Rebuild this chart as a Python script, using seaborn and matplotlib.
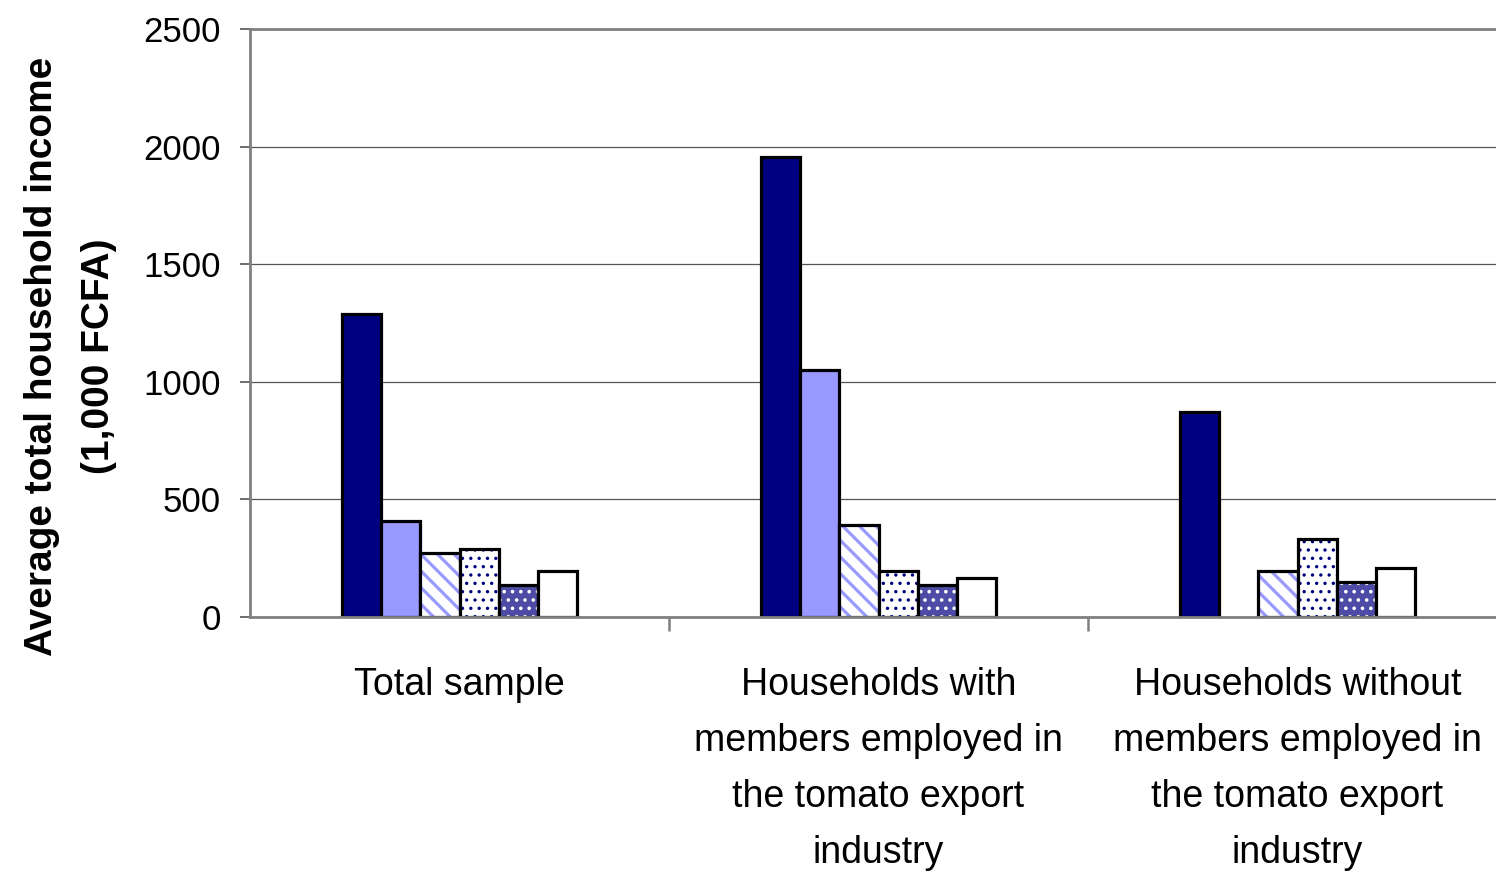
import numpy as np
import pandas as pd
import matplotlib
matplotlib.use("Agg")
import matplotlib.pyplot as plt
import seaborn as sns
from matplotlib.colors import to_rgba
from matplotlib.ticker import FixedLocator

# Household groups (x categories)
groups = [
    "Total sample",
    "Households with\nmembers employed in\nthe tomato export\nindustry",
    "Households without\nmembers employed in\nthe tomato export\nindustry",
]

# Income series (one bar per series within each group), 1,000 FCFA
series = ["Series 1", "Series 2", "Series 3", "Series 4", "Series 5", "Series 6"]
s1 = [1290, 1955, 870]
s2 = [410, 1050, np.nan]
s3 = [270, 390, 195]
s4 = [290, 195, 330]
s5 = [135, 135, 150]
s6 = [195, 165, 210]
series_values = [s1, s2, s3, s4, s5, s6]

y_ticks = [0, 500, 1000, 1500, 2000, 2500]
y_label = "Average total household income\n(1,000 FCFA)"

# Bar styling per series: face colour, hatch, hatch colour, hatch line width
face = ["#000080", "#9999FF", "#FFFFFF", "#FFFFFF", "#4C4CA6", "#FFFFFF"]
hatches = [None, None, "\\\\", "..", "..", None]
hatch_colors = [None, None, "#9999FF", "#000080", "#FFFFFF", None]
hatch_widths = [1.0, 1.0, 2.3, 1.2, 1.4, 1.0]

rows = []
for name, vals in zip(series, series_values):
    for g, v in zip(groups, vals):
        rows.append({"group": g, "series": name, "value": v})
df = pd.DataFrame(rows)

sns.set_style("white")
plt.rcParams["font.family"] = ["Liberation Sans", "DejaVu Sans"]
plt.rcParams["text.color"] = "black"
plt.rcParams["axes.labelcolor"] = "black"
plt.rcParams["hatch.linewidth"] = 1.2

fig = plt.figure(figsize=(14.96, 8.75), dpi=100)
ax = fig.add_axes([250 / 1496, 258 / 875, 1257 / 1496, 588 / 875])

sns.barplot(
    data=df, x="group", y="value", hue="series",
    order=groups, hue_order=series, palette=face,
    width=0.56, gap=0, saturation=1, errorbar=None, legend=False,
    edgecolor="black", linewidth=2.3, ax=ax,
)

for i, cont in enumerate(ax.containers):
    for bar in cont:
        bar.set_facecolor(face[i])
        bar.set_edgecolor("black")
        if hatches[i]:
            bar.set_hatch(hatches[i])
            bar._hatch_color = to_rgba(hatch_colors[i])
            if hasattr(bar, "set_hatch_linewidth"):
                bar.set_hatch_linewidth(hatch_widths[i])
            else:
                bar._hatch_linewidth = hatch_widths[i]

ax.set_xlim(-0.5, 2.5)
ax.set_ylim(0, 2500)
ax.yaxis.set_major_locator(FixedLocator(y_ticks))
ax.set_yticklabels([str(t) for t in y_ticks])
ax.grid(axis="y", color="#555555", linewidth=0.9)
ax.set_axisbelow(True)

for side in ["left", "bottom", "top"]:
    ax.spines[side].set_color("#808080")
    ax.spines[side].set_linewidth(2)
ax.spines["right"].set_visible(False)

ax.tick_params(axis="y", which="major", labelsize=25, length=7, width=1.2,
               color="#555555", labelcolor="black", pad=14, left=True,
               direction="out")
ax.tick_params(axis="x", which="major", labelsize=27, length=0, pad=36,
               labelcolor="black")
ax.xaxis.set_minor_locator(FixedLocator([0.5, 1.5, 2.5]))
ax.tick_params(axis="x", which="minor", length=10, width=1.8,
               color="#808080", bottom=True, direction="out")
for lbl in ax.get_xticklabels():
    lbl.set_linespacing(1.72)

ax.set_xlabel("")
ax.set_ylabel(y_label, fontsize=28, fontweight="bold", linespacing=1.75)
ax.yaxis.set_label_coords(-0.106, 0.444)

fig.savefig("out.png", dpi=100)
